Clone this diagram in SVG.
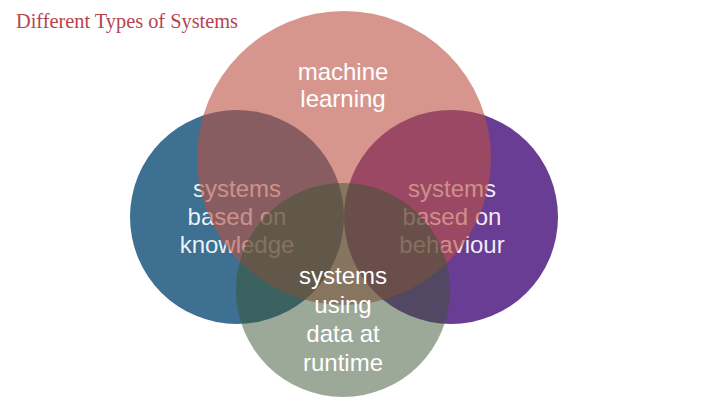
<svg xmlns="http://www.w3.org/2000/svg" width="720" height="405" viewBox="0 0 720 405">
  <style>
    .lbl { font-family: "Liberation Sans", Arial, sans-serif; font-size: 24px; text-anchor: middle; fill: #ffffff; }
    .title { font-family: "Liberation Serif", "Times New Roman", serif; font-size: 20px; fill: #b5444f; }
  </style>
  <rect width="720" height="405" fill="#ffffff"/>
  <text class="title" x="16" y="28" textLength="222" lengthAdjust="spacingAndGlyphs">Different Types of Systems</text>

  <g id="knowledge">
    <circle cx="237" cy="217" r="107" fill="#3d7091"/>
    <text class="lbl" x="237" y="197" fill-opacity="0.92">systems</text>
    <text class="lbl" x="237" y="225" fill-opacity="0.92">based on</text>
    <text class="lbl" x="237" y="253" fill-opacity="0.92">knowledge</text>
  </g>

  <g id="behaviour">
    <circle cx="451" cy="217" r="107" fill="#6a3d95"/>
    <text class="lbl" x="452" y="197" fill-opacity="0.92">systems</text>
    <text class="lbl" x="452" y="225" fill-opacity="0.92">based on</text>
    <text class="lbl" x="452" y="253" fill-opacity="0.92">behaviour</text>
  </g>

  <g id="machine-learning">
    <circle cx="344" cy="158" r="147" fill="#bb5042" fill-opacity="0.6"/>
    <text class="lbl" x="343" y="80">machine</text>
    <text class="lbl" x="343" y="107">learning</text>
  </g>

  <g id="runtime-data">
    <circle cx="343" cy="290" r="107" fill="#3a5432" fill-opacity="0.5"/>
    <text class="lbl" x="343" y="284">systems</text>
    <text class="lbl" x="343" y="313">using</text>
    <text class="lbl" x="343" y="342">data at</text>
    <text class="lbl" x="343" y="371">runtime</text>
  </g>
</svg>
